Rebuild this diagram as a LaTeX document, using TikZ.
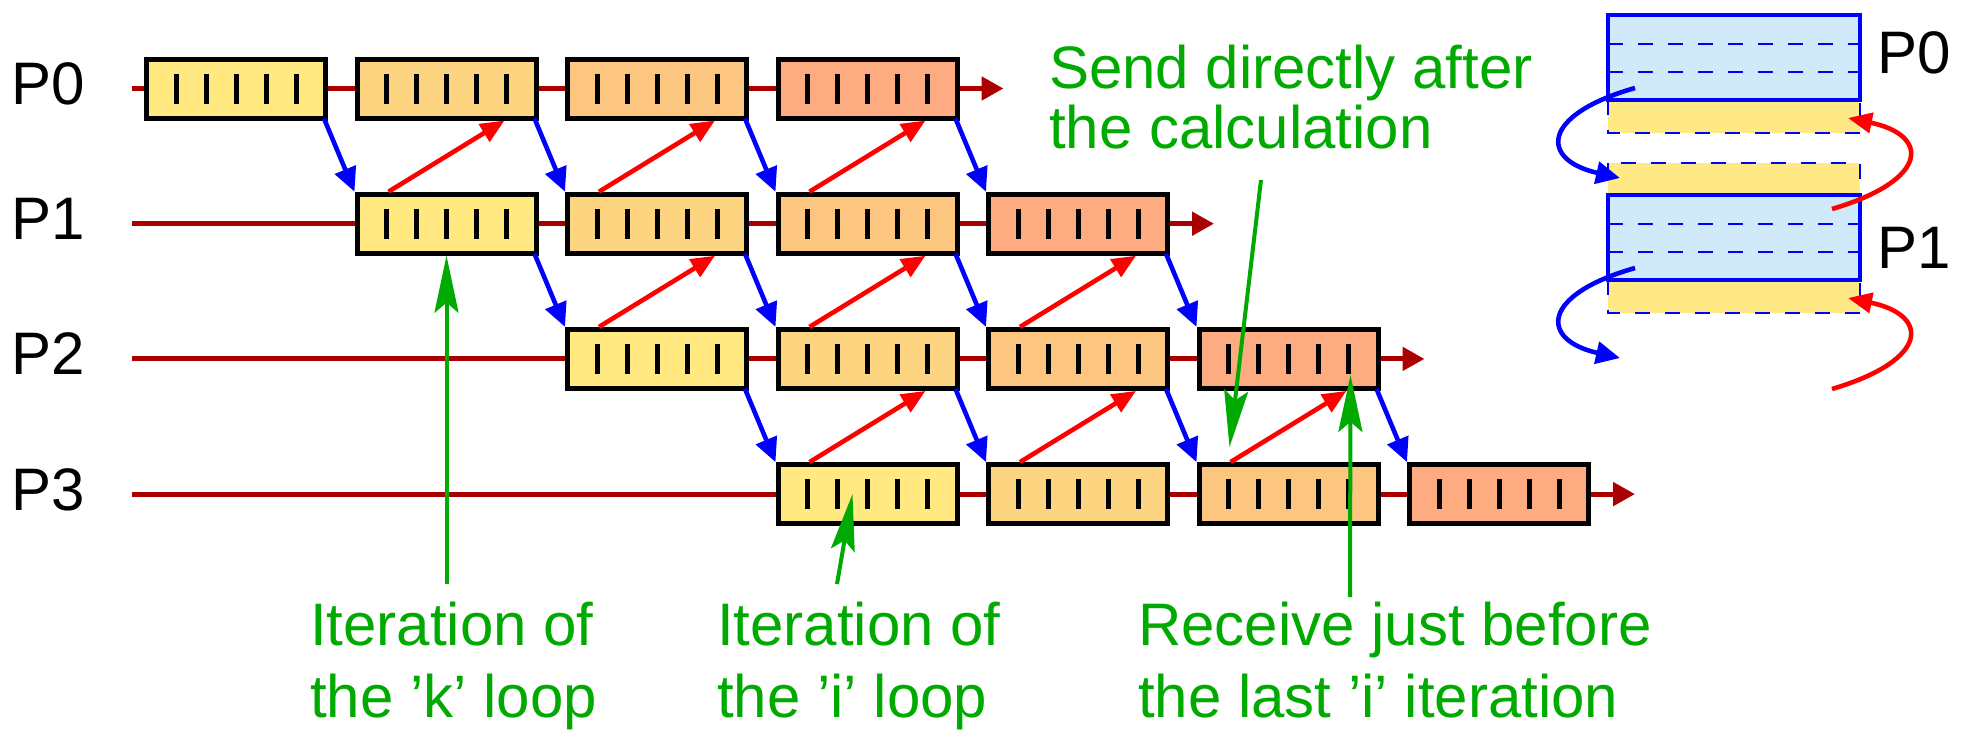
\documentclass[tikz,border=0pt]{standalone}
\usepackage{fontspec}
\setmainfont{Liberation Sans}
\usetikzlibrary{arrows.meta,calc}
\definecolor{cA}{RGB}{255,233,128}
\definecolor{cB}{RGB}{253,213,129}
\definecolor{cC}{RGB}{252,198,128}
\definecolor{cD}{RGB}{252,172,128}
\definecolor{tl}{RGB}{170,0,0}
\definecolor{gr}{RGB}{0,170,0}
\definecolor{memblue}{RGB}{208,234,250}
\definecolor{memyel}{RGB}{255,233,133}
\begin{document}
\begin{tikzpicture}[x=1pt,y=-1pt,
  cell/.style={draw=black,line width=5pt,minimum width=179pt,minimum height=59pt,inner sep=0pt},
  tickbar/.style={line width=5pt},
  tline/.style={draw=tl,line width=5pt,-{Triangle[length=22pt,width=23pt]}},
  sendarr/.style={draw=blue,line width=4.6pt,-{Triangle[length=24pt,width=22pt,fill=blue]}},
  recvarr/.style={draw=red,line width=4.6pt,-{Triangle[length=24pt,width=20pt,fill=red]}},
  note/.style={draw=gr,line width=4pt,-{Stealth[length=57pt,width=24pt,inset=10pt,fill=gr]}},
  lbl/.style={font=\fontsize{60}{72}\selectfont,inner sep=0pt,anchor=base west},
  glbl/.style={lbl,text=gr},
  memdash/.style={draw=blue,line width=2.5pt,dash pattern=on 15pt off 15pt},
  memline/.style={draw=blue,line width=4.5pt},
]
\useasboundingbox (0,0) rectangle (1968,732);

% process rows
\foreach \row in {0,...,3} {
  \pgfmathsetmacro\yy{88.5+135.2*\row}
  \pgfmathsetmacro\xe{372+210.5*(\row+3)}
  \coordinate (ls\row) at (132,\yy);
  \coordinate (le\row) at (\xe,\yy);
  \draw[tline] (ls\row) -- (le\row);
  \node[lbl] (p\row) at (11,\yy+16) {P\row};
  \foreach \k/\colr in {0/cA,1/cB,2/cC,3/cD} {
    \pgfmathtruncatemacro\cc{\row+\k}
    \node[cell,fill=\colr] (b-\row-\cc) at ({236+210.5*\cc},\yy) {};
    \foreach \dx in {-60,-30,0,30,60}
      \draw[tickbar] ($(b-\row-\cc.center)+(\dx,-15)$) -- ($(b-\row-\cc.center)+(\dx,15)$);
  }
}

% communication arrows
\foreach \row in {0,1,2} {
  \pgfmathtruncatemacro\nr{\row+1}
  \foreach \k in {0,...,3} {
    \pgfmathtruncatemacro\cc{\row+\k}
    \pgfmathtruncatemacro\nc{\row+\k+1}
    \draw[sendarr] ($(b-\row-\cc.south east)+(-4,-2)$) -- (b-\nr-\nc.north west);
  }
  \foreach \k in {1,2,3} {
    \pgfmathtruncatemacro\cc{\row+\k}
    \draw[recvarr] ($(b-\nr-\cc.north west)+(34,0)$) -- ($(b-\row-\cc.south east)+(-34,0)$);
  }
}

% annotations
\node[glbl] (k1) at (310,645) {Iteration of};
\node[glbl] (k2) at (310,717) {the 'k' loop};
\node[glbl] (i1) at (717,645) {Iteration of};
\node[glbl] (i2) at (717,717) {the 'i' loop};
\node[glbl] (r1) at (1138,645) {Receive just before};
\node[glbl] (r2) at (1138,717) {the last 'i' iteration};
\node[glbl] (s1) at (1049,88) {Send directly after};
\node[glbl] (s2) at (1049,148) {the calculation};

\coordinate (ks) at (446.5,584);
\draw[note] (ks) -- (b-1-1.south);
\coordinate (is) at (837,584);
\draw[note] (is) -- ($(b-3-3.center)+(-15,0)$);
\coordinate (rs) at (1350,597);
\draw[note] (rs) -- ($(b-2-5.south east)+(-30,-16)$);
\coordinate (ss) at (1261,180);
\draw[note] (ss) -- ($(b-3-5.north west)+(33,-15)$);

% memory layout panel
\filldraw[fill=memyel,memdash] (1608,100) rectangle (1860,133);
\filldraw[fill=memyel,memdash] (1608,163) rectangle (1860,195);
\filldraw[fill=memyel,memdash] (1608,280) rectangle (1860,313);
\fill[memblue] (1608,15) rectangle (1860,100);
\fill[memblue] (1608,195) rectangle (1860,280);
\foreach \yl in {44,72,224,252}
  \draw[memdash] (1608,\yl) -- (1860,\yl);
\draw[memline] (1608,15) rectangle (1860,100);
\draw[memline] (1608,195) rectangle (1860,280);
\node[lbl] (mp0) at (1877,73) {P0};
\node[lbl] (mp1) at (1877,268) {P1};

\coordinate (bs0) at (1635,88);   \coordinate (be0) at (1620,178);
\coordinate (bs1) at (1635,268);  \coordinate (be1) at (1620,358);
\coordinate (rs0) at (1832,209);  \coordinate (re0) at (1848,118);
\coordinate (rs1) at (1832,389);  \coordinate (re1) at (1848,298);
\draw[sendarr] (bs0) .. controls (1540,115) and (1540,160) .. (be0);
\draw[sendarr] (bs1) .. controls (1540,295) and (1540,340) .. (be1);
\draw[recvarr] (rs0) .. controls (1930,180) and (1930,135) .. (re0);
\draw[recvarr] (rs1) .. controls (1930,360) and (1930,315) .. (re1);
\end{tikzpicture}
\end{document}
